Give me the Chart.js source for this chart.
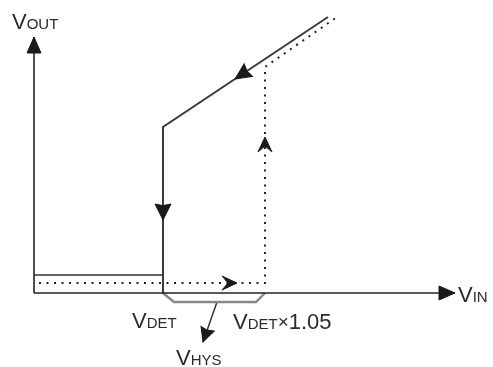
<!DOCTYPE html>
<html>
<head>
<meta charset="utf-8">
<script src="https://cdn.jsdelivr.net/npm/chart.js@4.4.1/dist/chart.umd.min.js"></script>
<style>
  html, body { margin: 0; padding: 0; background: #fff; }
  #wrap { width: 493px; height: 367px; position: relative; }
</style>
</head>
<body>
<div id="wrap"><canvas id="hystChart"></canvas></div>
<script>
// ----------------------------------------
// Data (schematic units, Vin across / Vout up)
// ----------------------------------------
const fallVin  = [2.94, 1.29, 1.29];      // Vout while Vin falls (solid)
const fallVout = [2.76, 1.66, 0.00];
const lowVin   = [0.00, 1.29];            // low output level (solid)
const lowVout  = [0.18, 0.18];
const riseVin  = [0.05, 2.31, 2.31, 3.03]; // Vout while Vin rises (dotted)
const riseVout = [0.10, 0.10, 2.26, 2.76];
const hysVin   = [1.29, 1.40, 2.22, 2.31]; // hysteresis bracket
const hysVout  = [0.00, -0.09, -0.09, 0.00];
const ptrVin   = [1.83, 1.69];            // pointer to VHYS label
const ptrVout  = [-0.09, -0.49];
const xAxisVin = [0, 4.21];
const yAxisVout = [0, 2.56];

// arrowheads: tip, a point behind it, length, half width, notch
const arrows = [
  { tip: [4.21, 0], from: [0, 0], len: 16, half: 7, notch: 1 },
  { tip: [0, 2.56], from: [0, 0], len: 16, half: 7, notch: 1 },
  { tip: [2.01, 2.14], from: [2.94, 2.76], len: 16, half: 7.5, notch: 0.9 },
  { tip: [1.29, 0.73], from: [1.29, 1.66], len: 16, half: 8, notch: 0.9 },
  { tip: [2.03, 0.10], from: [0.05, 0.10], len: 15, half: 7, notch: 0.6 },
  { tip: [2.31, 1.56], from: [2.31, 0.10], len: 15, half: 7, notch: 0.6 },
  { tip: [1.69, -0.49], from: [1.83, -0.09], len: 14, half: 7, notch: 0.9 }
];

// labels: [main, subscript] runs, anchored at left / baseline
const labelRuns = [
  [['V', 'OUT']],
  [['V', 'IN']],
  [['V', 'DET']],
  [['V', 'DET'], ['1.05', '×']],
  [['V', 'HYS']]
];
const labelAt = [[-0.22, 2.64], [4.24, -0.09], [0.98, -0.35], [1.99, -0.36], [1.42, -0.72]];

const pts = (xs, ys) => xs.map((v, i) => ({ x: v, y: ys[i] }));

// ----------------------------------------
// Plugins: arrowheads and labels
// ----------------------------------------
const arrowPlugin = {
  id: 'arrowHeads',
  afterDatasetsDraw(chart) {
    const { ctx, scales: { x, y } } = chart;
    ctx.save();
    ctx.fillStyle = '#1a1a1a';
    ctx.strokeStyle = '#1a1a1a';
    ctx.lineWidth = 1;
    ctx.lineJoin = 'miter';
    arrows.forEach(a => {
      const tx = x.getPixelForValue(a.tip[0]), ty = y.getPixelForValue(a.tip[1]);
      const fx = x.getPixelForValue(a.from[0]), fy = y.getPixelForValue(a.from[1]);
      const ang = Math.atan2(ty - fy, tx - fx);
      ctx.save();
      ctx.translate(tx, ty);
      ctx.rotate(ang);
      ctx.beginPath();
      ctx.moveTo(0, 0);
      ctx.lineTo(-a.len, -a.half);
      ctx.lineTo(-a.len * a.notch, 0);
      ctx.lineTo(-a.len, a.half);
      ctx.closePath();
      ctx.fill();
      ctx.stroke();
      ctx.restore();
    });
    ctx.restore();
  }
};

const labelPlugin = {
  id: 'labels',
  afterDraw(chart) {
    const { ctx, scales: { x, y } } = chart;
    ctx.save();
    ctx.fillStyle = '#2b2b2b';
    ctx.textBaseline = 'alphabetic';
    labelRuns.forEach((runs, i) => {
      let px = x.getPixelForValue(labelAt[i][0]);
      const py = y.getPixelForValue(labelAt[i][1]);
      runs.forEach(([big, small], k) => {
        // second run of VDET×1.05 puts the "×" before the big number
        const parts = k === 0 ? [[big, 22, 0], [small, 15, 0]] : [[small, 19, -1], [big, 22, 0]];
        parts.forEach(([t, size, dy]) => {
          ctx.font = size + 'px "Liberation Sans", Arial, sans-serif';
          ctx.fillText(t, px, py + dy);
          px += ctx.measureText(t).width;
        });
      });
    });
    ctx.restore();
  }
};

// ----------------------------------------
// Chart
// ----------------------------------------
const lineSet = (data, color, width, dash) => ({
  data, borderColor: color, borderWidth: width, borderDash: dash || [],
  pointRadius: 0, showLine: true, fill: false, tension: 0, clip: false,
  borderCapStyle: 'butt', borderJoinStyle: 'miter'
});

new Chart(document.getElementById('hystChart'), {
  type: 'scatter',
  data: {
    datasets: [
      lineSet(pts(xAxisVin, [0, 0]), '#222', 1.6),
      lineSet(pts([0, 0], yAxisVout), '#222', 1.6),
      lineSet(pts(hysVin, hysVout), '#888', 2.4),
      lineSet(pts(ptrVin, ptrVout), '#333', 1.5),
      lineSet(pts(lowVin, lowVout), '#333', 1.6),
      lineSet(pts(fallVin, fallVout), '#3a3a3a', 2),
      lineSet(pts(riseVin, riseVout), '#222', 2, [2, 5.5])
    ]
  },
  options: {
    responsive: true,
    maintainAspectRatio: false,
    animation: false,
    layout: { padding: 0 },
    plugins: { legend: { display: false }, tooltip: { enabled: false } },
    scales: {
      x: { type: 'linear', min: -0.34, max: 4.59, display: false },
      y: { type: 'linear', min: -0.74, max: 2.93, display: false }
    }
  },
  plugins: [arrowPlugin, labelPlugin]
});
</script>
</body>
</html>
